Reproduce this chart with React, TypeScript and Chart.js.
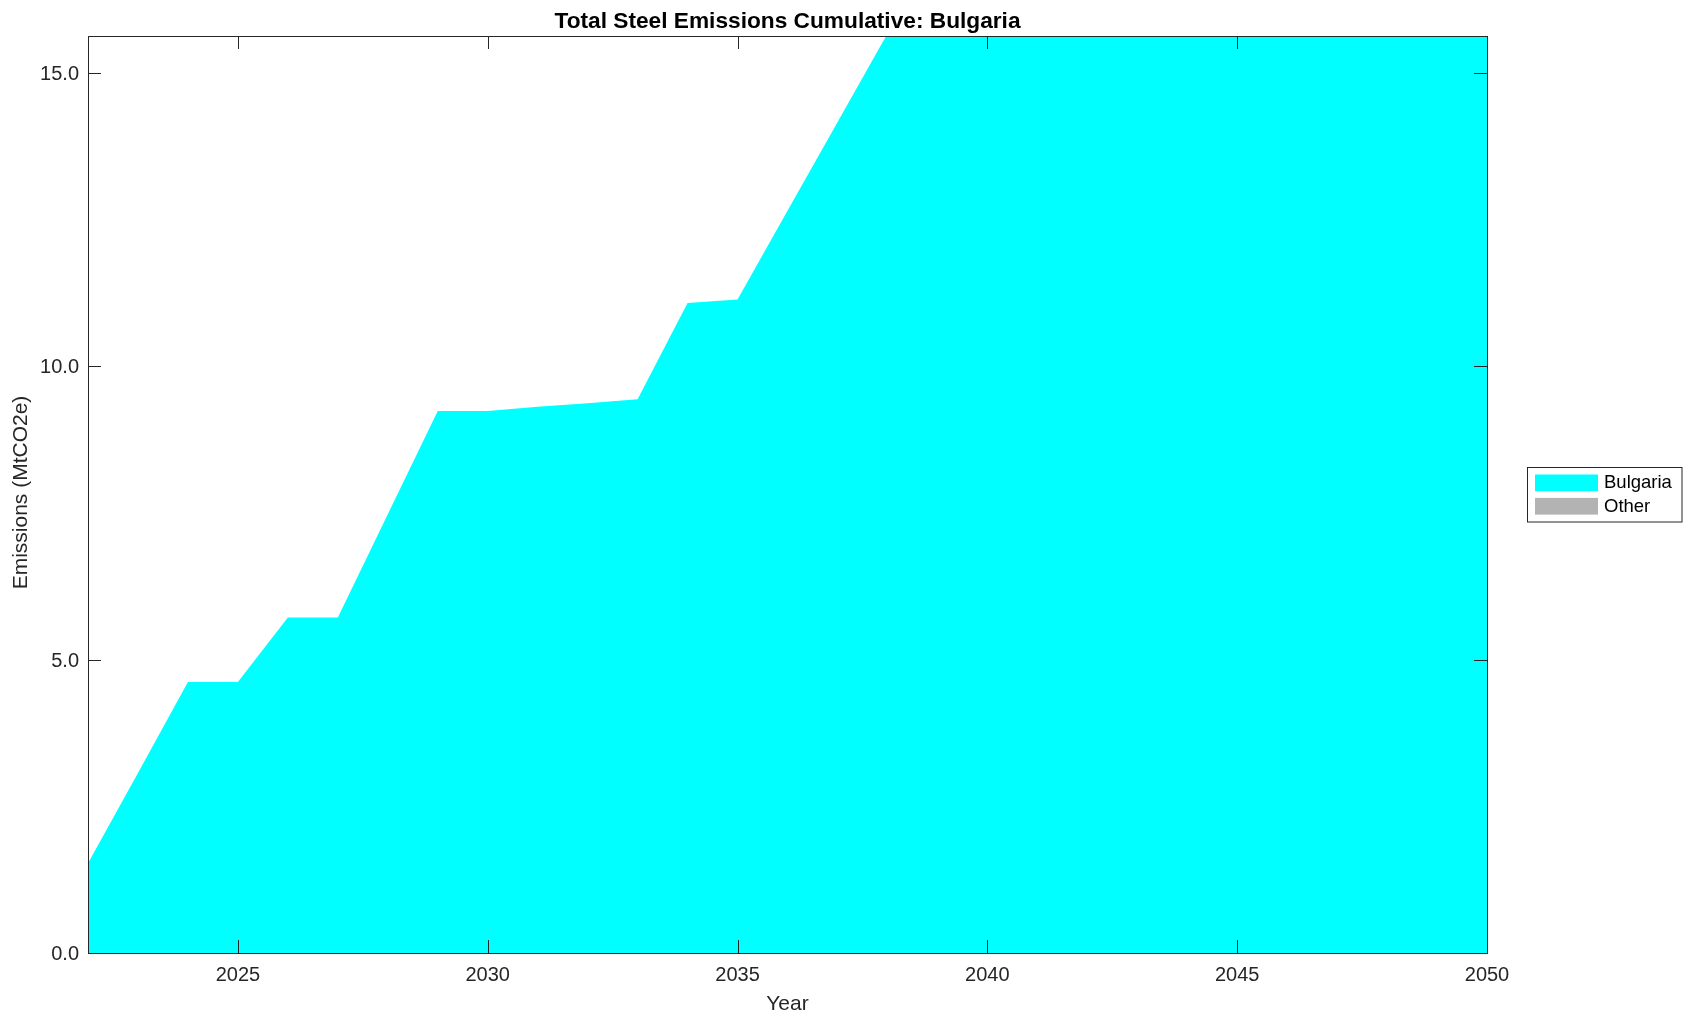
import React, { useEffect, useRef } from "react";
import { Chart, registerables } from "chart.js";

Chart.register(...registerables);

const years = [
  2022, 2023, 2024, 2025, 2026, 2027, 2028, 2029, 2030, 2031, 2032, 2033, 2034, 2035, 2036,
  2037, 2038, 2039, 2040, 2041, 2042, 2043, 2044, 2045, 2046, 2047, 2048, 2049, 2050,
];
const bulgaria = [
  1.53, 3.07, 4.62, 4.62, 5.72, 5.72, 7.48, 9.24, 9.24, 9.31, 9.37, 9.44, 11.08, 11.14, 12.65,
  14.16, 15.67, 17.1, 18.6, 20.0, 21.5, 22.9, 24.4, 25.8, 27.2, 28.7, 30.1, 31.5, 32.9,
];
const other = [
  0, 0, 0, 0, 0, 0, 0, 0, 0, 0, 0, 0, 0, 0, 0, 0, 0, 0, 0, 0, 0, 0, 0, 0, 0, 0, 0, 0, 0,
];
const seriesNames = ["Bulgaria", "Other"];
const seriesColors = ["#00ffff", "#b3b3b3"];
const xTicks = [2025, 2030, 2035, 2040, 2045, 2050];
const yTicks = [0, 5, 10, 15];
const titleText = "Total Steel Emissions Cumulative: Bulgaria";
const xTitle = "Year";
const yTitle = "Emissions (MtCO2e)";

const FONT = '"Liberation Sans", Arial, Helvetica, sans-serif';
const AXIS = "#262626";
const W = 1693;
const H = 1021;

const decorPlugin = {
  id: "decor",
  afterDatasetsDraw(chart: any) {
    const ctx = chart.ctx as CanvasRenderingContext2D;
    const a = chart.chartArea;
    const xs = chart.scales.x;
    const ys = chart.scales.y;
    const tl = 13;
    ctx.save();
    ctx.strokeStyle = AXIS;
    ctx.lineWidth = 1;
    ctx.beginPath();
    for (const v of xTicks) {
      const px = Math.round(xs.getPixelForValue(v)) + 0.5;
      ctx.moveTo(px, a.bottom);
      ctx.lineTo(px, a.bottom - tl);
      ctx.moveTo(px, a.top);
      ctx.lineTo(px, a.top + tl);
    }
    for (const v of yTicks) {
      const py = Math.round(ys.getPixelForValue(v)) + 0.5;
      ctx.moveTo(a.left, py);
      ctx.lineTo(a.left + tl, py);
      ctx.moveTo(a.right, py);
      ctx.lineTo(a.right - tl, py);
    }
    ctx.stroke();
    ctx.strokeRect(Math.round(a.left) + 0.5, Math.round(a.top) + 0.5, Math.round(a.right - a.left), Math.round(a.bottom - a.top));
    ctx.restore();
  },
  afterDraw(chart: any) {
    const ctx = chart.ctx as CanvasRenderingContext2D;
    const a = chart.chartArea;
    ctx.save();
    // title
    ctx.fillStyle = "#000";
    ctx.font = `bold 22.7px ${FONT}`;
    ctx.textAlign = "center";
    ctx.textBaseline = "alphabetic";
    ctx.fillText(titleText, (a.left + a.right) / 2, 28);
    // x title
    ctx.fillStyle = AXIS;
    ctx.font = `21px ${FONT}`;
    ctx.fillText(xTitle, (a.left + a.right) / 2, 1010);
    // y title
    ctx.save();
    ctx.translate(27, (a.top + a.bottom) / 2 - 2);
    ctx.rotate(-Math.PI / 2);
    ctx.textAlign = "center";
    ctx.textBaseline = "alphabetic";
    ctx.fillText(yTitle, 0, 0);
    ctx.restore();
    // legend
    const lx = 1527.5, ly = 467.5, lw = 154.5, lh = 54.5;
    ctx.fillStyle = "#fff";
    ctx.fillRect(lx, ly, lw, lh);
    ctx.strokeStyle = AXIS;
    ctx.lineWidth = 1;
    ctx.strokeRect(lx, ly, lw, lh);
    ctx.font = `18.5px ${FONT}`;
    ctx.textAlign = "left";
    ctx.textBaseline = "middle";
    chart.data.datasets.forEach((ds: any, i: number) => {
      const sy = 474.5 + i * 23.4;
      ctx.fillStyle = ds.backgroundColor;
      ctx.fillRect(1535, sy, 63, 16.7);
      ctx.fillStyle = "#000";
      ctx.fillText(ds.label, 1604, sy + 8.6);
    });
    ctx.restore();
  },
};

export default function App() {
  const ref = useRef<HTMLCanvasElement>(null);
  useEffect(() => {
    document.body.style.margin = "0";
    const canvas = ref.current!;
    const chart = new Chart(canvas, {
      type: "line",
      data: {
        datasets: [
          {
            label: seriesNames[0],
            data: years.map((x, i) => ({ x, y: bulgaria[i] })),
            backgroundColor: seriesColors[0],
            borderColor: seriesColors[0],
            borderWidth: 0,
            pointRadius: 0,
            fill: "origin",
            tension: 0,
          },
          {
            label: seriesNames[1],
            data: years.map((x, i) => ({ x, y: other[i] })),
            backgroundColor: seriesColors[1],
            borderColor: seriesColors[1],
            borderWidth: 0,
            pointRadius: 0,
            fill: "-1",
            tension: 0,
          },
        ],
      },
      options: {
        responsive: false,
        animation: false,
        devicePixelRatio: 1,
        layout: { padding: { left: 0, right: 206, top: 36, bottom: 0 } },
        plugins: {
          legend: { display: false },
          title: { display: false },
          tooltip: { enabled: false },
        },
        scales: {
          x: {
            type: "linear",
            min: 2022,
            max: 2050,
            grid: { display: false, drawTicks: false },
            border: { display: false },
            afterBuildTicks: (s: any) => {
              s.ticks = xTicks.map((v) => ({ value: v }));
            },
            afterFit: (s: any) => {
              s.height = 68;
            },
            ticks: {
              padding: 10,
              color: AXIS,
              font: { family: FONT, size: 20 },
              maxRotation: 0,
              autoSkip: false,
              callback: (v: any) => String(v),
            },
          },
          y: {
            type: "linear",
            stacked: true,
            min: 0,
            max: 15.63,
            grid: { display: false, drawTicks: false },
            border: { display: false },
            afterBuildTicks: (s: any) => {
              s.ticks = yTicks.map((v) => ({ value: v }));
            },
            afterFit: (s: any) => {
              s.width = 88;
            },
            ticks: {
              padding: 9,
              labelOffset: 1.5,
              color: AXIS,
              font: { family: FONT, size: 20 },
              autoSkip: false,
              callback: (v: any) => Number(v).toFixed(1),
            },
          },
        },
      } as any,
      plugins: [decorPlugin],
    });
    return () => chart.destroy();
  }, []);
  return (
    <div style={{ position: "fixed", left: 0, top: 0, width: W, height: H, background: "#fff" }}>
      <canvas ref={ref} width={W} height={H} style={{ width: W, height: H, display: "block" }} />
    </div>
  );
}
